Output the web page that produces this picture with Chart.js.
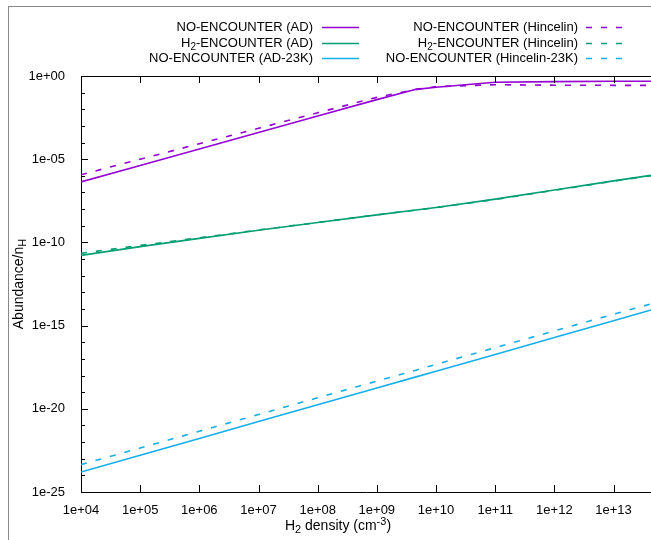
<!DOCTYPE html>
<html>
<head>
<meta charset="utf-8">
<script src="https://cdn.jsdelivr.net/npm/chart.js@4"></script>
<style>
html, body { margin: 0; padding: 0; background: #fff; overflow: hidden; }
#wrap { position: relative; width: 651px; height: 540px; }
#frame { position: absolute; left: 8px; top: 6px; right: 0; bottom: 0; border-top: 1px solid #888; border-left: 1px solid #888; pointer-events: none; }
</style>
</head>
<body>
<div id="wrap">
  <canvas id="abundChart" width="651" height="540"></canvas>
  <div id="frame"></div>
</div>
<script>
// H2 density samples (cm^-3)
const density = [1e4, 1e5, 1e6, 1e7, 1e8, 1e9, 4.6e9, 1e10, 1e11, 1e12, 1e13, 4.3e13];

// abundances
const noAD        = [4.3e-7, 4.2e-6, 4.1e-5, 4.0e-4, 3.9e-3, 3.8e-2, 0.158, 0.21, 0.42, 0.46, 0.48, 0.48];
const h2AD        = [1.66e-11, 5.6e-11, 1.74e-10, 5.4e-10, 1.58e-9, 4.5e-9, 8.9e-9, 1.26e-8, 4.0e-8, 1.41e-7, 5.0e-7, 1.07e-6];
const noAD23      = [1.6e-24, 1.6e-23, 1.66e-22, 1.7e-21, 1.74e-20, 1.78e-19, 8.3e-19, 1.8e-18, 1.86e-17, 1.9e-16, 1.95e-15, 8.7e-15];
const noHinc      = [1.17e-6, 1.0e-5, 8.5e-5, 7.2e-4, 6.2e-3, 5.2e-2, 0.158, 0.23, 0.30, 0.28, 0.275, 0.275];
const h2Hinc      = [2.2e-11, 6.6e-11, 1.9e-10, 5.6e-10, 1.58e-9, 4.5e-9, 8.9e-9, 1.23e-8, 3.8e-8, 1.35e-7, 4.8e-7, 1.02e-6];
const noHinc23    = [4.4e-24, 4.4e-23, 4.5e-22, 4.5e-21, 4.6e-20, 4.6e-19, 2.1e-18, 4.7e-18, 4.7e-17, 4.8e-16, 4.8e-15, 2.0e-14];

const xTicks = [1e4, 1e5, 1e6, 1e7, 1e8, 1e9, 1e10, 1e11, 1e12, 1e13];
const xTickLabels = ['1e+04', '1e+05', '1e+06', '1e+07', '1e+08', '1e+09', '1e+10', '1e+11', '1e+12', '1e+13'];
const yTicks = [1e-25, 1e-20, 1e-15, 1e-10, 1e-5, 1];
const yTickLabels = ['1e-25', '1e-20', '1e-15', '1e-10', '1e-05', '1e+00'];

const xTitle = 'H_2 density (cm^{-3})';
const yTitle = 'Abundance/n_H';

const PURPLE = '#9400d3';
const GREEN = '#009e73';
const CYAN = '#16aee8';

const FAMILY = '"Liberation Sans", Arial, sans-serif';

// legend columns: [label, data, colour, dashed]
const series = [
    ['NO-ENCOUNTER (AD)', noAD, PURPLE, false],
    ['H_2-ENCOUNTER (AD)', h2AD, GREEN, false],
    ['NO-ENCOUNTER (AD-23K)', noAD23, CYAN, false],
    ['NO-ENCOUNTER (Hincelin)', noHinc, PURPLE, true],
    ['H_2-ENCOUNTER (Hincelin)', h2Hinc, GREEN, true],
    ['NO-ENCOUNTER (Hincelin-23K)', noHinc23, CYAN, true],
];

function richParts(str)
{
    const parts = [];
    let i = 0, buf = '';
    while (i < str.length) {
        const c = str[i];
        if (c === '_' || c === '^') {
            if (buf) { parts.push({ t: buf, s: 0 }); buf = ''; }
            let t;
            if (str[i + 1] === '{') {
                const j = str.indexOf('}', i);
                t = str.slice(i + 2, j);
                i = j + 1;
            } else {
                t = str[i + 1];
                i += 2;
            }
            parts.push({ t: t, s: c === '_' ? 1 : -1 });
        } else {
            buf += c;
            i++;
        }
    }
    if (buf) parts.push({ t: buf, s: 0 });
    return parts;
}

function drawRich(ctx, str, x, y, align, size)
{
    const big = size + 'px ' + FAMILY;
    const small = Math.round(size * 0.78) + 'px ' + FAMILY;
    const shift = Math.round(size * 0.32);
    const parts = richParts(str);
    let w = 0;
    parts.forEach(p => {
        ctx.font = p.s ? small : big;
        p.w = ctx.measureText(p.t).width;
        w += p.w;
    });
    let cx = align === 'right' ? x - w : (align === 'center' ? x - w / 2 : x);
    ctx.textAlign = 'left';
    ctx.textBaseline = 'middle';
    ctx.fillStyle = '#000';
    parts.forEach(p => {
        ctx.font = p.s ? small : big;
        ctx.fillText(p.t, cx, y + p.s * shift);
        cx += p.w;
    });
}

const gnuplotLook = {
    id: 'gnuplotLook',
    afterDatasetsDraw(chart) {
        const ctx = chart.ctx;
        const area = chart.chartArea;
        const xs = chart.scales.x;
        const ys = chart.scales.y;
        ctx.save();
        ctx.strokeStyle = '#000';
        ctx.lineWidth = 1;
        ctx.setLineDash([]);

        // top border
        ctx.beginPath();
        ctx.moveTo(area.left, area.top + 0.5);
        ctx.lineTo(area.right, area.top + 0.5);
        ctx.stroke();

        // x ticks, inward at bottom and mirrored at top
        ctx.beginPath();
        xTicks.forEach(v => {
            const px = Math.round(xs.getPixelForValue(v)) + 0.5;
            ctx.moveTo(px, area.bottom);
            ctx.lineTo(px, area.bottom - 7);
            ctx.moveTo(px, area.top);
            ctx.lineTo(px, area.top + 7);
        });
        // y ticks: one per decade, longer every fifth
        for (let e = -25; e <= 0; e++) {
            const py = Math.round(ys.getPixelForValue(Math.pow(10, e))) + 0.5;
            const len = (e % 5 === 0) ? 7 : 4;
            ctx.moveTo(area.left, py);
            ctx.lineTo(area.left + len, py);
        }
        ctx.stroke();

        // legend
        const cols = [{ tx: 313, x0: 322, x1: 359 }, { tx: 578, x0: 586, x1: 623 }];
        const rows = [27, 43, 58];
        series.forEach((s, i) => {
            const col = cols[Math.floor(i / 3)];
            const y = rows[i % 3];
            drawRich(ctx, s[0], col.tx, y, 'right', 13);
            ctx.beginPath();
            ctx.strokeStyle = s[2];
            ctx.lineWidth = 1.6;
            ctx.setLineDash(s[3] ? [6, 9] : []);
            ctx.moveTo(col.x0, y + 0.5);
            ctx.lineTo(col.x1, y + 0.5);
            ctx.stroke();
        });
        ctx.setLineDash([]);

        // axis titles
        drawRich(ctx, xTitle, 338, 526, 'center', 14);
        ctx.translate(19, (area.top + area.bottom) / 2);
        ctx.rotate(-Math.PI / 2);
        drawRich(ctx, yTitle, 0, 0, 'center', 14);
        ctx.restore();
    }
};

new Chart(document.getElementById('abundChart'), {
    type: 'line',
    data: {
        datasets: series.map(s => ({
            label: s[0].replace('_', ''),
            data: density.map((d, i) => ({ x: d, y: s[1][i] })),
            borderColor: s[2],
            backgroundColor: s[2],
            borderWidth: 1.6,
            borderDash: s[3] ? [6, 9] : [],
            pointRadius: 0,
            tension: 0,
            fill: false,
        }))
    },
    options: {
        responsive: false,
        animation: false,
        layout: { padding: { top: 76, right: 0, bottom: 0, left: 0 } },
        plugins: {
            legend: { display: false },
            tooltip: { enabled: false },
        },
        scales: {
            x: {
                type: 'logarithmic',
                min: 1e4,
                max: 4.3e13,
                afterBuildTicks: s => { s.ticks = xTicks.map(v => ({ value: v })); },
                afterFit: s => { s.height = 48; },
                grid: { display: false },
                border: { display: true, color: '#000', width: 1 },
                ticks: {
                    autoSkip: false,
                    maxRotation: 0,
                    padding: 3,
                    color: '#000',
                    font: { family: FAMILY, size: 13 },
                    callback: (v, i) => xTickLabels[i],
                }
            },
            y: {
                type: 'logarithmic',
                min: 1e-25,
                max: 1,
                afterBuildTicks: s => { s.ticks = yTicks.map(v => ({ value: v })); },
                afterFit: s => { s.width = 81; },
                grid: { display: false },
                border: { display: true, color: '#000', width: 1 },
                ticks: {
                    autoSkip: false,
                    padding: 8,
                    color: '#000',
                    font: { family: FAMILY, size: 13 },
                    callback: (v, i) => yTickLabels[i],
                }
            }
        }
    },
    plugins: [gnuplotLook]
});
</script>
</body>
</html>
